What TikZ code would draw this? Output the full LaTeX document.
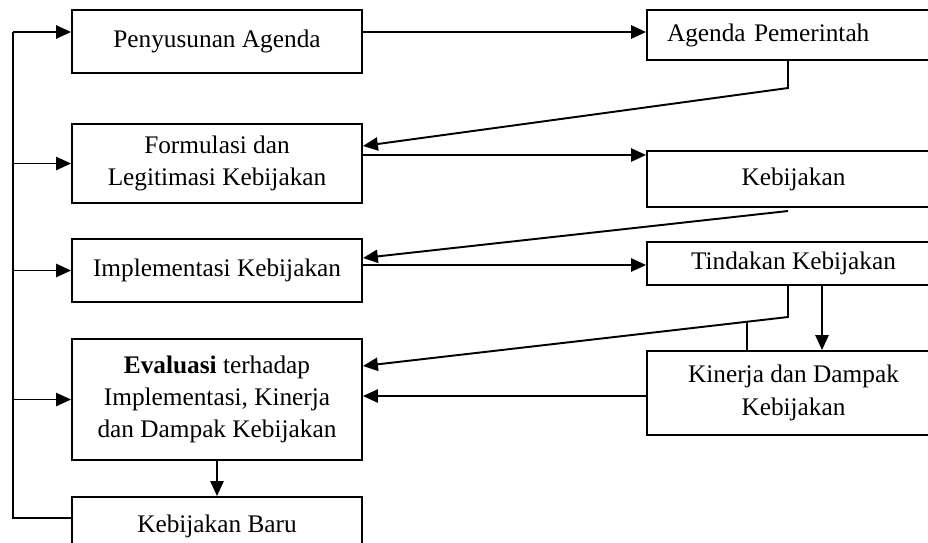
\documentclass[tikz,border=0pt]{standalone}
\usepackage{fontspec}
\setmainfont{Liberation Serif}
\usepackage{tikz}
\usetikzlibrary{arrows.meta}

\begin{document}
\begin{tikzpicture}[x=0.02cm,y=-0.02cm]
		\clip (0,0) rectangle (928,542);
		\tikzstyle{every node}+=[draw,line width=1.1pt,rectangle,align=center,inner sep=2pt,
			font=\fontsize{14.4}{18.4}\selectfont]
		\tikzstyle{lbox}=[minimum width=5.8cm]
		\tikzstyle{rbox}=[minimum width=5.86cm]
		\tikzstyle{arr}=[line width=1.1pt,-{Triangle[length=8.5pt,width=7.5pt]}]
		% kolom kiri
		\node[lbox,minimum height=1.26cm] (pa) at (217,41.5) {Penyusunan Agenda};
		\node[lbox,minimum height=1.58cm] (fl) at (217,163.5) {Formulasi dan\\Legitimasi Kebijakan};
		\node[lbox,minimum height=1.26cm] (ik) at (217,270.5) {Implementasi Kebijakan};
		\node[lbox,minimum height=2.42cm] (ev) at (217,399.5) {\textbf{Evaluasi} terhadap\\Implementasi, Kinerja\\dan Dampak Kebijakan};
		\node[lbox,minimum height=1.16cm] (kb) at (217,526) {Kebijakan Baru};
		% kolom kanan
		\node[rbox,minimum height=1.0cm,text width=5.06cm,inner xsep=0.4cm,align=left] (ap) at (793.5,35) {Agenda Pemerintah};
		\node[rbox,minimum height=1.12cm] (kj) at (793.5,179) {Kebijakan};
		\node[rbox,minimum height=0.86cm] (tk) at (793.5,263.5) {Tindakan Kebijakan};
		\node[rbox,minimum height=1.68cm] (kd) at (793.5,393) {Kinerja dan Dampak\\Kebijakan};
		% titik bantu
		\coordinate (lt) at (13,32);
		\coordinate (lb) at (13,518);
		\coordinate (m1) at (788,88);
		\coordinate (m2) at (788,211);
		\coordinate (m3) at (788,317);
		\coordinate (m4) at (747,322);
		% umpan balik kiri
		\draw[line width=1.1pt] (lt) -- (lb) -- (lb -| kb.west);
		\draw[arr] (lt) -- (lt -| pa.west);
		\draw[arr] (lt |- fl.west) -- (fl.west);
		\draw[arr] (lt |- ik.west) -- (ik.west);
		\draw[arr] (lt |- ev.west) -- (ev.west);
		% alur kanan
		\draw[arr] (pa.east |- lt) -- (ap.west |- lt);
		\draw[arr] (ap.south -| m1) -- (m1) -- (fl.east |- 0,146);
		\draw[arr] (fl.east |- 0,155) -- (kj.west |- 0,155);
		\draw[arr] (m2) -- (ik.east |- 0,258);
		\draw[arr] (ik.east |- 0,265) -- (tk.west |- 0,265);
		\draw[arr] (tk.south -| m3) -- (m3) -- (ev.east |- 0,366);
		\draw[arr] (tk.south -| 822,0) -- (kd.north -| 822,0);
		\draw[line width=1.1pt] (kd.north -| m4) -- (m4);
		\draw[arr] (kd.west |- 0,396) -- (ev.east |- 0,396);
		\draw[arr] (ev.south) -- (kb.north);
	\end{tikzpicture}
\end{document}
